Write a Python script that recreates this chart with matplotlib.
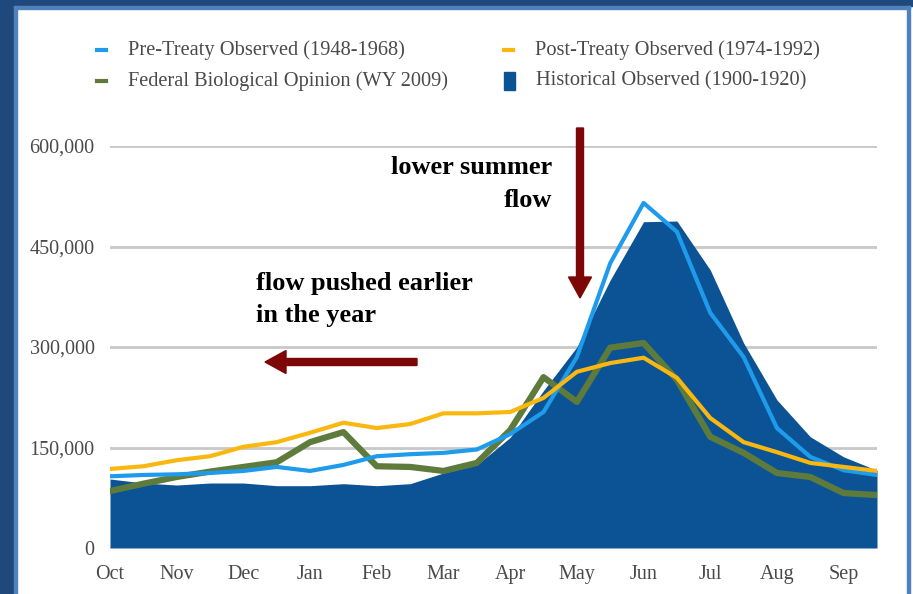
import numpy as np
import matplotlib
matplotlib.use("Agg")
import matplotlib.pyplot as plt
from matplotlib.patches import Rectangle, FancyArrow
from matplotlib.lines import Line2D
from matplotlib.transforms import IdentityTransform

# half-month steps, Oct 1 .. Sep 15 (flow, thousands)
months = ["Oct", "Nov", "Dec", "Jan", "Feb", "Mar", "Apr", "May", "Jun", "Jul", "Aug", "Sep"]
historical = [103, 97, 94, 97, 97, 93, 93, 96, 93, 96, 112, 124,
              165, 235, 300, 400, 487, 488, 415, 306, 221, 166, 136, 116]
pre_treaty = [107, 109, 110, 112, 115, 121, 115, 124, 137, 140, 142, 147,
              170, 203, 285, 425, 515, 472, 351, 285, 179, 136, 116, 109]
post_treaty = [118, 122, 131, 137, 151, 158, 172, 187, 179, 185, 201, 201,
               203, 224, 263, 276, 284, 254, 194, 158, 143, 127, 121, 115]
fed_bio = [85, 96, 106, 114, 121, 128, 158, 173, 122, 121, 115, 127,
           176, 255, 218, 299, 306, 251, 166, 142, 112, 106, 82, 79]

c_hist = "#0b5394"
c_pre = "#1f9bec"
c_post = "#f9b710"
c_fed = "#5f7b3c"
c_arrow = "#7d0606"
txt = "#4a4a4a"

W, H = 913, 594
plt.rcParams["font.family"] = ["Liberation Serif", "DejaVu Serif"]
fig = plt.figure(figsize=(W / 100, H / 100), dpi=100)
fig.patch.set_facecolor("white")

# frame (pixel coords, origin bottom left)
pix = IdentityTransform()
fig.add_artist(Rectangle((0, 0), 14, H, color="#1f497d", transform=pix, zorder=0))
fig.add_artist(Rectangle((0, H - 6), W, 6, color="#1f497d", transform=pix, zorder=0))
fig.add_artist(Rectangle((14, 0), 3, H - 6, color="#4f81bd", transform=pix, zorder=0))
fig.add_artist(Rectangle((14, H - 9), 896, 3, color="#4f81bd", transform=pix, zorder=0))
fig.add_artist(Rectangle((907, 0), 3, H - 6, color="#4f81bd", transform=pix, zorder=0))

ax = fig.add_axes([110 / W, 46 / H, 767 / W, 402 / H])
x = np.arange(len(historical))
hist = np.array(historical) * 1000
ax.fill_between(x, 0, hist, color=c_hist, lw=0, zorder=2)
ax.plot(x, np.array(fed_bio) * 1000, color=c_fed, lw=4.5, zorder=3)
ax.plot(x, np.array(pre_treaty) * 1000, color=c_pre, lw=3, zorder=4)
ax.plot(x, np.array(post_treaty) * 1000, color=c_post, lw=3, zorder=5)

ax.set_xlim(0, len(x) - 1)
ax.set_ylim(0, 600000)
ax.set_yticks([0, 150000, 300000, 450000, 600000])
ax.set_yticklabels(["0", "150,000", "300,000", "450,000", "600,000"])
ax.set_xticks(np.arange(0, 24, 2))
ax.set_xticklabels(months)
ax.grid(axis="y", color="#c8c8c8", lw=2, zorder=1)
ax.set_axisbelow(True)
for s in ax.spines.values():
    s.set_visible(False)
ax.tick_params(length=0, labelsize=14.5, labelcolor=txt)
ax.tick_params(axis="y", pad=11)
ax.tick_params(axis="x", pad=12)

# legend
leg = [("Pre-Treaty Observed (1948-1968)", c_pre, 97, 50, "line"),
       ("Federal Biological Opinion (WY 2009)", c_fed, 97, 81, "line"),
       ("Post-Treaty Observed (1974-1992)", c_post, 504, 50, "line"),
       ("Historical Observed (1900-1920)", c_hist, 504, 81, "box")]
for label, col, lx, ly, kind in leg:
    if kind == "line":
        fig.add_artist(Line2D([lx, lx + 9], [H - ly, H - ly], color=col, lw=3, transform=pix))
        tx = lx + 31
    else:
        fig.add_artist(Rectangle((lx, H - ly - 9), 11, 18, color=col, transform=pix))
        tx = lx + 32
    fig.text(tx, H - ly, label, transform=pix, fontsize=14.7, color=txt, va="center", ha="left")

# annotations
fig.text(552, H - 174, "lower summer", transform=pix, fontsize=19, fontweight="bold",
         ha="right", va="baseline", color="black")
fig.text(552, H - 207, "flow", transform=pix, fontsize=19, fontweight="bold",
         ha="right", va="baseline", color="black")
fig.text(256, H - 290, "flow pushed earlier", transform=pix, fontsize=19, fontweight="bold",
         ha="left", va="baseline", color="black")
fig.text(256, H - 322, "in the year", transform=pix, fontsize=19, fontweight="bold",
         ha="left", va="baseline", color="black")

fig.add_artist(FancyArrow(580, H - 128, 0, -170, width=7, head_width=23, head_length=21,
                          length_includes_head=True, color=c_arrow, transform=pix))
fig.add_artist(FancyArrow(417, H - 362, -152, 0, width=7, head_width=23, head_length=21,
                          length_includes_head=True, color=c_arrow, transform=pix))

fig.savefig("out.png", dpi=100)
